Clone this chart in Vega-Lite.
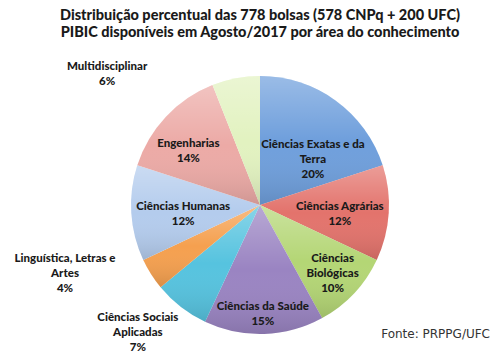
{
  "$schema": "https://vega.github.io/schema/vega-lite/v6.json",
  "width": 500,
  "height": 326,
  "autosize": "none",
  "padding": {"left": 10, "top": 42, "right": 0, "bottom": 0},
  "background": "white",
  "title": {
    "text": ["Distribuição percentual das 778 bolsas (578 CNPq + 200 UFC)", "PIBIC disponíveis em Agosto/2017 por área do conhecimento"],
    "font": "Lato", "fontSize": 14.5, "fontWeight": 900, "color": "#1a1a1a",
    "anchor": "middle", "lineHeight": 17, "offset": 2
  },
  "layer": [
    {
      "data": {"values": [
        {"area": "Ciências Exatas e da Terra", "rotulo": "Ciências Exatas e da\nTerra", "pct": 20, "ordem": 1},
        {"area": "Ciências Agrárias", "rotulo": "Ciências Agrárias", "pct": 12, "ordem": 2},
        {"area": "Ciências Biológicas", "rotulo": "Ciências\nBiológicas", "pct": 10, "ordem": 3},
        {"area": "Ciências da Saúde", "rotulo": "Ciências da Saúde", "pct": 15, "ordem": 4},
        {"area": "Ciências Sociais Aplicadas", "rotulo": "Ciências Sociais\nAplicadas", "pct": 7, "ordem": 5},
        {"area": "Linguística, Letras e Artes", "rotulo": "Linguística, Letras e\nArtes", "pct": 4, "ordem": 6},
        {"area": "Ciências Humanas", "rotulo": "Ciências Humanas", "pct": 12, "ordem": 7},
        {"area": "Engenharias", "rotulo": "Engenharias", "pct": 14, "ordem": 8},
        {"area": "Multidisciplinar", "rotulo": "Multidisciplinar", "pct": 6, "ordem": 9}
      ]},
      "transform": [{"calculate": "datum.rotulo + '\\n' + datum.pct + '%'", "as": "texto"}],
      "encoding": {
        "theta": {"field": "pct", "type": "quantitative", "stack": true},
        "order": {"field": "ordem", "type": "quantitative"},
        "detail": {"field": "area", "type": "nominal"}
      },
      "layer": [
        {
          "mark": {"type": "arc", "outerRadius": 129},
          "encoding": {
            "color": {
              "field": "area", "type": "nominal", "legend": null,
              "scale": {
                "domain": ["Ciências Exatas e da Terra", "Ciências Agrárias", "Ciências Biológicas", "Ciências da Saúde", "Ciências Sociais Aplicadas", "Linguística, Letras e Artes", "Ciências Humanas", "Engenharias", "Multidisciplinar"],
                "range": ["#6f9fdc", "#e3736c", "#b4d675", "#9a84c2", "#56c3df", "#f5a04f", "#b4cced", "#ecaaa6", "#e2f2c0"]
              }
            }
          }
        },
        {
          "mark": {
            "type": "arc", "outerRadius": 129,
            "fill": {"gradient": "linear", "x1": 0, "y1": 0, "x2": 0, "y2": 1,
              "stops": [
                {"offset": 0, "color": "rgba(255,255,255,0.3)"},
                {"offset": 0.5, "color": "rgba(255,255,255,0)"},
                {"offset": 1, "color": "rgba(0,0,0,0.12)"}
              ]}
          },
          "encoding": {}
        },
        {
          "mark": {"type": "text", "radius": 90, "dx": 0, "dy": 13, "font": "Lato", "fontWeight": 900, "fontSize": 11.5, "lineHeight": 15, "lineBreak": "\n", "align": "center", "baseline": "middle", "color": "#1a1a1a"},
          "encoding": {"text": {"condition": {"test": "datum.area === 'Ciências Exatas e da Terra'", "field": "texto", "type": "nominal"}, "value": ""}}
        },
        {
          "mark": {"type": "text", "radius": 90, "dx": -10, "dy": -3.5, "font": "Lato", "fontWeight": 900, "fontSize": 11.5, "lineHeight": 15, "lineBreak": "\n", "align": "center", "baseline": "middle", "color": "#1a1a1a"},
          "encoding": {"text": {"condition": {"test": "datum.area === 'Ciências Agrárias'", "field": "texto", "type": "nominal"}, "value": ""}}
        },
        {
          "mark": {"type": "text", "radius": 90, "dx": 7, "dy": -8, "font": "Lato", "fontWeight": 900, "fontSize": 11.5, "lineHeight": 15, "lineBreak": "\n", "align": "center", "baseline": "middle", "color": "#1a1a1a"},
          "encoding": {"text": {"condition": {"test": "datum.area === 'Ciências Biológicas'", "field": "texto", "type": "nominal"}, "value": ""}}
        },
        {
          "mark": {"type": "text", "radius": 90, "dx": 0, "dy": 12.5, "font": "Lato", "fontWeight": 900, "fontSize": 11.5, "lineHeight": 15, "lineBreak": "\n", "align": "center", "baseline": "middle", "color": "#1a1a1a"},
          "encoding": {"text": {"condition": {"test": "datum.area === 'Ciências da Saúde'", "field": "texto", "type": "nominal"}, "value": ""}}
        },
        {
          "mark": {"type": "text", "radius": 90, "dx": -67, "dy": 42, "font": "Lato", "fontWeight": 900, "fontSize": 11.5, "lineHeight": 15, "lineBreak": "\n", "align": "center", "baseline": "middle", "color": "#1a1a1a"},
          "encoding": {"text": {"condition": {"test": "datum.area === 'Ciências Sociais Aplicadas'", "field": "texto", "type": "nominal"}, "value": ""}}
        },
        {
          "mark": {"type": "text", "radius": 90, "dx": -119, "dy": 6, "font": "Lato", "fontWeight": 900, "fontSize": 11.5, "lineHeight": 15, "lineBreak": "\n", "align": "center", "baseline": "middle", "color": "#1a1a1a"},
          "encoding": {"text": {"condition": {"test": "datum.area === 'Linguística, Letras e Artes'", "field": "texto", "type": "nominal"}, "value": ""}}
        },
        {
          "mark": {"type": "text", "radius": 90, "dx": 13, "dy": -3.5, "font": "Lato", "fontWeight": 900, "fontSize": 11.5, "lineHeight": 15, "lineBreak": "\n", "align": "center", "baseline": "middle", "color": "#1a1a1a"},
          "encoding": {"text": {"condition": {"test": "datum.area === 'Ciências Humanas'", "field": "texto", "type": "nominal"}, "value": ""}}
        },
        {
          "mark": {"type": "text", "radius": 90, "dx": -6, "dy": 0.5, "font": "Lato", "fontWeight": 900, "fontSize": 11.5, "lineHeight": 15, "lineBreak": "\n", "align": "center", "baseline": "middle", "color": "#1a1a1a"},
          "encoding": {"text": {"condition": {"test": "datum.area === 'Engenharias'", "field": "texto", "type": "nominal"}, "value": ""}}
        },
        {
          "mark": {"type": "text", "radius": 90, "dx": -136, "dy": -49.5, "font": "Lato", "fontWeight": 900, "fontSize": 11.5, "lineHeight": 15, "lineBreak": "\n", "align": "center", "baseline": "middle", "color": "#1a1a1a"},
          "encoding": {"text": {"condition": {"test": "datum.area === 'Multidisciplinar'", "field": "texto", "type": "nominal"}, "value": ""}}
        }
      ]
    },
    {
      "data": {"values": [{"fonte": "Fonte: PRPPG/UFC"}]},
      "mark": {"type": "text", "font": "DejaVu Sans", "fontSize": 12, "color": "#333333", "align": "right", "baseline": "alphabetic", "dx": -20, "dy": -30},
      "encoding": {
        "x": {"value": "width"},
        "y": {"value": "height"},
        "text": {"field": "fonte", "type": "nominal"}
      }
    }
  ],
  "config": {"view": {"stroke": null}}
}
